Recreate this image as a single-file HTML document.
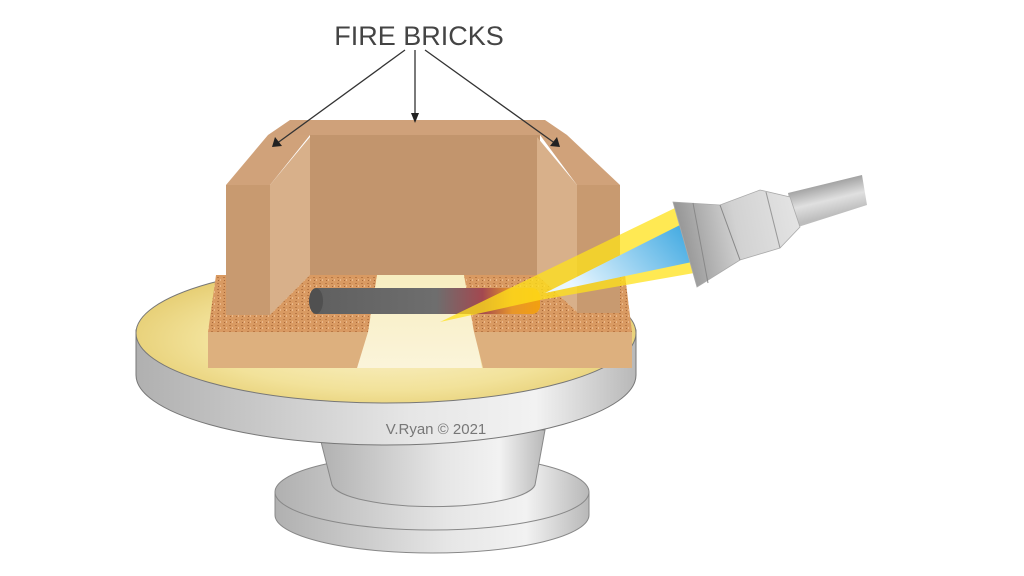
<!DOCTYPE html>
<html><head><style>
html,body{margin:0;padding:0;background:#fff;}
svg{display:block;}
</style></head><body>
<svg width="1024" height="576" viewBox="0 0 1024 576" xmlns="http://www.w3.org/2000/svg">
<defs>
<linearGradient id="gray" x1="0" x2="1" y1="0" y2="0">
<stop offset="0" stop-color="#b0b0b0"/><stop offset="0.55" stop-color="#e6e6e6"/><stop offset="0.8" stop-color="#f2f2f2"/><stop offset="1" stop-color="#b8b8b8"/>
</linearGradient>
<radialGradient id="top" cx="0.5" cy="0.55" r="0.6">
<stop offset="0" stop-color="#fbf3cf"/><stop offset="0.6" stop-color="#f2e29a"/><stop offset="1" stop-color="#e2c766"/>
</radialGradient>
<linearGradient id="gap" x1="0" x2="0" y1="0" y2="1">
<stop offset="0" stop-color="#f7eec0"/><stop offset="1" stop-color="#fbf4da"/>
</linearGradient>
<linearGradient id="rod" x1="0" x2="1" y1="0" y2="0">
<stop offset="0" stop-color="#5f5f5f"/><stop offset="0.55" stop-color="#6e6e6e"/><stop offset="0.75" stop-color="#a34850"/><stop offset="0.88" stop-color="#e8962a"/><stop offset="1" stop-color="#f2a010"/>
</linearGradient>
<linearGradient id="blue" x1="1" x2="0" y1="0" y2="0.4">
<stop offset="0" stop-color="#3aa6e0"/><stop offset="1" stop-color="#e8f6ff"/>
</linearGradient>
<linearGradient id="torch" gradientUnits="userSpaceOnUse" x1="673" y1="240" x2="800" y2="215">
<stop offset="0" stop-color="#8e8e8e"/><stop offset="0.5" stop-color="#d2d2d2"/><stop offset="1" stop-color="#e4e4e4"/>
</linearGradient>
<linearGradient id="handle" gradientUnits="userSpaceOnUse" x1="822" y1="182" x2="830" y2="216">
<stop offset="0" stop-color="#9a9a9a"/><stop offset="0.55" stop-color="#e0e0e0"/><stop offset="1" stop-color="#bdbdbd"/>
</linearGradient>
<pattern id="cork" width="6" height="6" patternUnits="userSpaceOnUse">
<rect width="6" height="6" fill="#d99a62"/><rect x="1" y="1" width="2" height="1" fill="#b97845"/><rect x="4" y="3" width="1" height="2" fill="#eab88a"/><rect x="2" y="4" width="1" height="1" fill="#a8683a"/>
</pattern>
</defs>

<!-- base -->
<path d="M275,492 L275,515 A157,38 0 0 0 589,515 L589,492 Z" fill="url(#gray)" stroke="#888" stroke-width="1"/>
<ellipse cx="432" cy="492" rx="157" ry="38" fill="url(#gray)" stroke="#888" stroke-width="1"/>
<!-- neck -->
<path d="M318,430 L545,430 L535,485 A102,24 0 0 1 332,485 Z" fill="url(#gray)" stroke="#888" stroke-width="1"/>
<!-- turntable side -->
<path d="M136,330 L136,375 A250,70 0 0 0 636,375 L636,330 Z" fill="url(#gray)" stroke="#777" stroke-width="1"/>
<ellipse cx="386" cy="333" rx="250" ry="70" fill="url(#top)" stroke="#777" stroke-width="1"/>
<text x="436" y="434" font-family="Liberation Sans, sans-serif" font-size="15" fill="#777" text-anchor="middle">V.Ryan © 2021</text>

<!-- gap light -->
<polygon points="377,275 464,275 482,368 357,368" fill="url(#gap)"/>
<!-- bottom bricks -->
<polygon points="216,275 377,275 368,332 208,332" fill="url(#cork)"/>
<polygon points="464,275 625,275 632,332 474,332" fill="url(#cork)"/>
<polygon points="208,332 368,332 357,368 208,368" fill="#ddb07e"/>
<polygon points="474,332 632,332 632,368 483,368" fill="#ddb07e"/>

<!-- back brick -->
<polygon points="290,120 545,120 567,135 268,135" fill="#cfa17a"/>
<rect x="310" y="135" width="230" height="140" fill="#c2956d"/>
<!-- left side brick -->
<polygon points="226,185 268,135 310,135 270,185" fill="#d0a27a"/>
<polygon points="270,185 310,137 310,275 270,315" fill="#d8b08a"/>
<rect x="226" y="185" width="44" height="130" fill="#c89a70"/>
<!-- right side brick -->
<polygon points="540,135 567,135 620,185 577,185" fill="#d0a27a"/>
<polygon points="537,137 577,185 577,312 537,275" fill="#d8b08a"/>
<rect x="577" y="185" width="43" height="128" fill="#c89a70"/>

<!-- rod -->
<rect x="310" y="288" width="230" height="26" rx="8" fill="url(#rod)"/>
<ellipse cx="316" cy="301" rx="7" ry="13" fill="#505050"/>

<!-- flame -->
<polygon points="675,208 700,272 540,300 440,322" fill="#ffe21a" opacity="0.75"/>
<polygon points="680,225 692,262 545,293" fill="url(#blue)"/>

<!-- torch -->
<polygon points="788,193 862,175 867,205 795,228" fill="url(#handle)"/>
<polygon points="673,202 720,205 760,190 790,197 800,227 780,248 740,260 697,287" fill="url(#torch)" stroke="#aaa" stroke-width="0.8"/>
<line x1="693" y1="203" x2="708" y2="283" stroke="#888" stroke-width="1"/>
<line x1="720" y1="205" x2="740" y2="260" stroke="#888" stroke-width="1"/>
<line x1="766" y1="192" x2="780" y2="248" stroke="#999" stroke-width="1"/>

<!-- label -->
<text x="419" y="45" font-family="Liberation Sans, sans-serif" font-size="27" fill="#444" text-anchor="middle">FIRE BRICKS</text>
<g stroke="#333" stroke-width="1.3" fill="none">
<line x1="405" y1="50" x2="276" y2="144"/>
<line x1="415" y1="50" x2="415" y2="116"/>
<line x1="425" y1="50" x2="556" y2="144"/>
</g>
<g fill="#222">
<polygon points="272,147 275,137 282,146"/>
<polygon points="415,123 411,113 419,113"/>
<polygon points="560,147 550,146 557,137"/>
</g>
</svg>
</body></html>
